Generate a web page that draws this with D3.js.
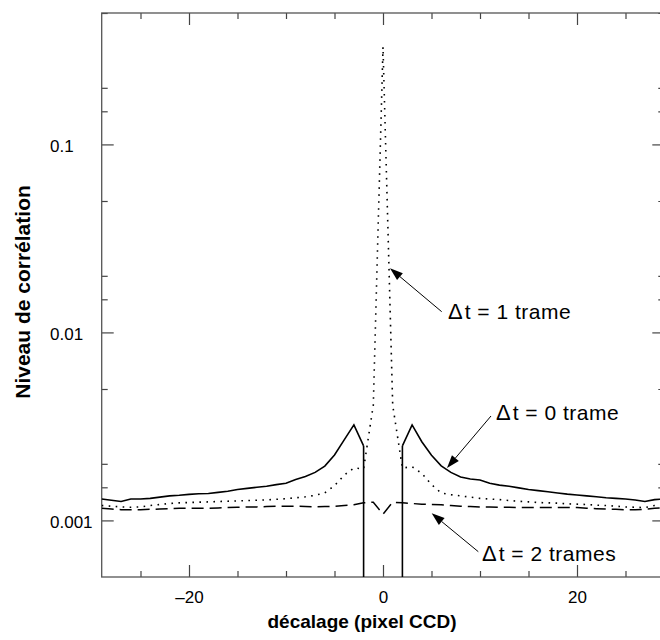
<!DOCTYPE html>
<html>
<head>
<meta charset="utf-8">
<script src="https://cdn.jsdelivr.net/npm/d3@7"></script>
<style>
  html, body { margin: 0; padding: 0; background: #fff; }
  svg { display: block; }
</style>
</head>
<body>
<div id="chart"></div>
<script>
// ---------- data ----------
const offsets = [-29,-28,-27,-26,-25,-24,-23,-22,-21,-20,-19,-18,-17,-16,-15,-14,-13,-12,-11,-10,
  -9,-8,-7,-6,-5,-4,-3,-2,-1,0,1,2,3,4,5,6,7,8,9,10,
  11,12,13,14,15,16,17,18,19,20,21,22,23,24,25,26,27,28,29];

// Δt = 0 trame (solid)
const lag0 = [0.00130,0.00128,0.00126,0.00130,0.00130,0.00131,0.00133,0.00135,0.00136,0.001375,
  0.001385,0.00139,0.00141,0.00143,0.00146,0.00148,0.00150,0.00152,0.00155,0.001575,
  0.00165,0.00171,0.00180,0.001945,0.00223,0.00268,0.00322,0.00249,null,null,
  null,0.00249,0.00322,0.00262,0.00222,0.00195,0.00180,0.00170,0.00166,0.00164,
  0.001575,0.00154,0.00152,0.00149,0.00146,0.00144,0.00142,0.00140,0.00138,0.001365,
  0.00135,0.001335,0.00132,0.00131,0.00130,0.001285,0.00126,0.00129,0.00130];

// Δt = 1 trame (dotted)
const lag1 = [0.00120,0.00119,0.00118,0.001175,0.00118,0.00120,0.001215,0.00123,0.00124,0.001245,
  0.00125,0.001255,0.00126,0.001265,0.00127,0.001275,0.00128,0.001285,0.001295,0.001305,
  0.00132,0.001335,0.00136,0.00140,0.00153,0.00174,0.00190,0.00188,0.0041,0.33,
  0.0041,0.00190,0.00193,0.00178,0.00155,0.00140,0.00137,0.00135,0.00133,0.00131,
  0.00130,0.00129,0.001275,0.001265,0.001255,0.001245,0.00124,0.001235,0.001225,0.00122,
  0.001215,0.001205,0.00120,0.00119,0.00118,0.001175,0.00117,0.00120,0.00121];

// Δt = 2 trames (dashed)
const lag2 = [0.00116,0.00115,0.00114,0.00114,0.00114,0.001145,0.00115,0.001155,0.00116,0.00116,
  0.00116,0.00116,0.001165,0.00117,0.001175,0.00118,0.00118,0.001185,0.00119,0.00119,
  0.00119,0.001185,0.00118,0.001185,0.00119,0.00120,0.00121,0.00124,0.00125,0.00108,
  0.00125,0.00124,0.00123,0.00122,0.001215,0.00121,0.00120,0.00119,0.001185,0.00118,
  0.00118,0.001175,0.001175,0.00117,0.00117,0.00117,0.00117,0.00117,0.00117,0.00117,
  0.00116,0.001155,0.00115,0.001145,0.00114,0.00114,0.001145,0.00116,0.00117];

const xMajorTicks = [-20, 0, 20];
const xMajorLabels = ["\u201320", "0", "20"];
const xMinorTicks = [-25, -15, -10, -5, 5, 10, 15, 25];
const yMajorTicks = [0.1, 0.01, 0.001];
const yMajorLabels = ["0.1", "0.01", "0.001"];
const yMinorTicks = [0.5, 0.2, 0.15, 0.05, 0.02, 0.015, 0.005, 0.002, 0.0015];

const seriesNames = ["\u0394t = 0 trame", "\u0394t = 1 trame", "\u0394t = 2 trames"];

// ---------- drawing ----------
(function () {
const W = 660, H = 640;
const pL = 101.7, pR = 664.3, pT = 13, pB = 577;
const FONT = "'Liberation Sans', Arial, Helvetica, sans-serif";

const svg = d3.select("#chart").append("svg")
  .attr("width", W).attr("height", H)
  .style("font-family", FONT);

const x = d3.scaleLinear().domain([-29, 29]).range([pL, pR]);
const y = d3.scaleLog().domain([0.0005, 0.5]).range([pB, pT]);

const axisColor = "#444";

function styleAxis(g) {
  g.select(".domain").remove();
  g.selectAll(".tick line").attr("stroke", axisColor).attr("stroke-width", 1.2);
  g.selectAll("text").attr("fill", "#000").style("font-family", FONT);
}

// bottom major
svg.append("g").attr("transform", `translate(0,${pB})`)
  .call(d3.axisBottom(x).tickValues(xMajorTicks)
    .tickFormat((d, i) => xMajorLabels[i]).tickSizeInner(-12).tickSizeOuter(0).tickPadding(14))
  .call(styleAxis)
  .call(g => g.selectAll("text").style("font-size", "17px"));
// bottom minor
svg.append("g").attr("transform", `translate(0,${pB})`)
  .call(d3.axisBottom(x).tickValues(xMinorTicks).tickFormat("").tickSizeInner(-6).tickSizeOuter(0))
  .call(styleAxis);
// top major/minor
svg.append("g").attr("transform", `translate(0,${pT})`)
  .call(d3.axisTop(x).tickValues(xMajorTicks).tickFormat("").tickSizeInner(-12).tickSizeOuter(0))
  .call(styleAxis);
svg.append("g").attr("transform", `translate(0,${pT})`)
  .call(d3.axisTop(x).tickValues(xMinorTicks).tickFormat("").tickSizeInner(-6).tickSizeOuter(0))
  .call(styleAxis);

// left major
svg.append("g").attr("transform", `translate(${pL},0)`)
  .call(d3.axisLeft(y).tickValues(yMajorTicks)
    .tickFormat((d, i) => yMajorLabels[i]).tickSizeInner(-12).tickSizeOuter(0))
  .call(styleAxis)
  .call(g => g.selectAll("text")
    .attr("text-anchor", "start")
    .attr("x", 50 - pL)
    .attr("dy", "0.44em")
    .style("font-size", "17px"));
// left minor
svg.append("g").attr("transform", `translate(${pL},0)`)
  .call(d3.axisLeft(y).tickValues(yMinorTicks).tickFormat("").tickSizeInner(-6).tickSizeOuter(0))
  .call(styleAxis);
// right major/minor
svg.append("g").attr("transform", `translate(${pR},0)`)
  .call(d3.axisRight(y).tickValues(yMajorTicks).tickFormat("").tickSizeInner(-12).tickSizeOuter(0))
  .call(styleAxis);
svg.append("g").attr("transform", `translate(${pR},0)`)
  .call(d3.axisRight(y).tickValues(yMinorTicks).tickFormat("").tickSizeInner(-6).tickSizeOuter(0))
  .call(styleAxis);

// frame
svg.append("rect")
  .attr("x", pL).attr("y", pT)
  .attr("width", pR - pL).attr("height", pB - pT)
  .attr("fill", "none").attr("stroke", "#555").attr("stroke-width", 1.3);

// clip
svg.append("clipPath").attr("id", "plotclip")
  .append("rect").attr("x", pL).attr("y", pT)
  .attr("width", pR - pL).attr("height", pB - pT);

const plot = svg.append("g").attr("clip-path", "url(#plotclip)");

const line = d3.line()
  .defined(d => d.v != null && d.v > 0)
  .x(d => x(d.o))
  .y(d => y(d.v));

function toPts(vals) { return offsets.map((o, i) => ({ o: o, v: vals[i] })); }

const series = [
  { name: seriesNames[1], vals: lag1, dash: "1.6,5.4", width: 1.6 },
  { name: seriesNames[2], vals: lag2, dash: "12,6", width: 1.5 },
  { name: seriesNames[0], vals: lag0, dash: null, width: 1.6 }
];

series.forEach(s => {
  const pts = toPts(s.vals);
  plot.append("path")
    .datum(pts)
    .attr("d", line)
    .attr("fill", "none")
    .attr("stroke", "#000")
    .attr("stroke-width", s.width)
    .attr("stroke-linejoin", "miter")
    .attr("stroke-dasharray", s.dash);
  // points bordering undefined (non-positive) values drop to the bottom of the log axis
  const ok = q => q && q.v != null && q.v > 0;
  pts.forEach((p, i) => {
    if (!ok(p)) return;
    const prev = pts[i - 1], next = pts[i + 1];
    if ((prev && !ok(prev)) || (next && !ok(next))) {
      plot.append("line")
        .attr("x1", x(p.o)).attr("x2", x(p.o))
        .attr("y1", y(p.v)).attr("y2", pB)
        .attr("stroke", "#000").attr("stroke-width", s.width)
        .attr("stroke-dasharray", s.dash);
    }
  });
});

// annotations
const notes = [
  { label: seriesNames[1], tx: 448, ty: 319, from: [441.7, 311.7], to: [390, 268.3] },
  { label: seriesNames[0], tx: 496, ty: 420, from: [491, 416], to: [447, 468] },
  { label: seriesNames[2], tx: 482, ty: 560.7, from: [478.3, 551.7], to: [431.7, 513.3] }
];

notes.forEach(n => {
  const [x1, y1] = n.from, [x2, y2] = n.to;
  const ang = Math.atan2(y2 - y1, x2 - x1);
  const L = 13, Hw = 4.5;
  const bx = x2 - L * Math.cos(ang), by = y2 - L * Math.sin(ang);
  svg.append("line")
    .attr("x1", x1).attr("y1", y1).attr("x2", bx).attr("y2", by)
    .attr("stroke", "#000").attr("stroke-width", 1);
  const px = -Math.sin(ang), py = Math.cos(ang);
  svg.append("polygon")
    .attr("points", [[x2, y2], [bx + Hw * px, by + Hw * py], [bx - Hw * px, by - Hw * py]].map(p => p.join(",")).join(" "))
    .attr("fill", "#000");
  const t = svg.append("text").attr("x", n.tx).attr("y", n.ty)
    .style("font-size", "21px").style("letter-spacing", "0.5px").attr("fill", "#000");
  t.append("tspan").text(n.label.slice(0, 1)).style("font-size", "22px");
  t.append("tspan").attr("dx", 1.5).text(n.label.slice(1));
});

// axis titles
svg.append("text")
  .attr("x", 362).attr("y", 628)
  .attr("text-anchor", "middle")
  .style("font-size", "19px").style("font-weight", "bold")
  .text("décalage (pixel CCD)");

svg.append("text")
  .attr("transform", `translate(30,292) rotate(-90)`)
  .attr("text-anchor", "middle")
  .style("font-size", "21px").style("font-weight", "bold")
  .text("Niveau de corrélation");
})();
</script>
</body>
</html>
